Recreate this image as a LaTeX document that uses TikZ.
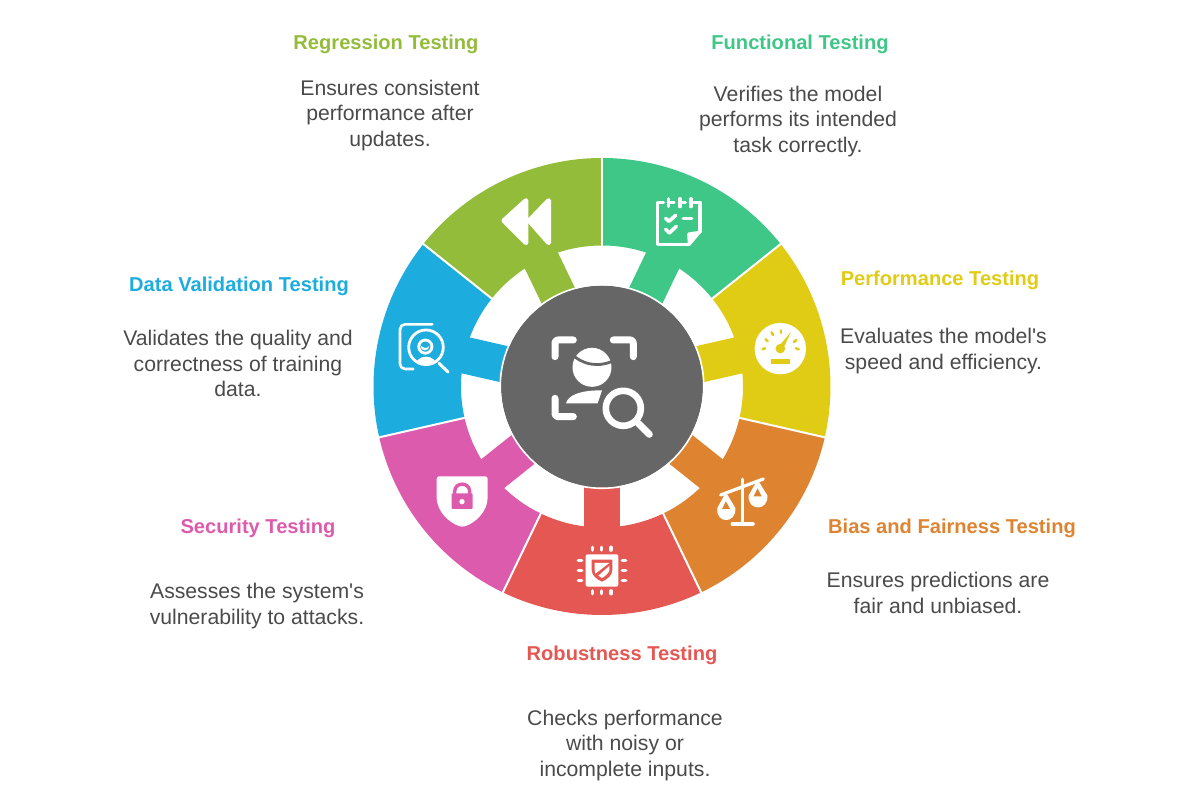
\documentclass[tikz,border=0pt]{standalone}
\usepackage{fontspec}
\setmainfont{Liberation Sans}
\newfontfamily\bodyf{Liberation Sans}
\definecolor{cOlive}{HTML}{93BC3A}
\definecolor{cGreen}{HTML}{3EC787}
\definecolor{cYellow}{HTML}{E0CB15}
\definecolor{cOrange}{HTML}{DE8431}
\definecolor{cRed}{HTML}{E55753}
\definecolor{cPink}{HTML}{DD5BAC}
\definecolor{cBlue}{HTML}{1DACDE}
\definecolor{cDark}{HTML}{666666}
\definecolor{cText}{HTML}{4A4A4A}
\tikzset{
  titlelabel/.style={font=\fontsize{20.1}{24}\selectfont\bfseries,inner sep=0pt,anchor=base},
  bodylabel/.style={font=\bodyf\fontsize{21.2}{25.2}\selectfont,text=cText,align=center,inner sep=0pt,anchor=center},
  zA/.style={shift={(370pt,645pt)},x=0.3333pt,y=-0.3333pt},
  zB/.style={shift={(600pt,645pt)},x=0.3333pt,y=-0.3333pt},
  zC/.style={shift={(370pt,415pt)},x=0.3333pt,y=-0.3333pt},
  zD/.style={shift={(600pt,415pt)},x=0.3333pt,y=-0.3333pt},
  zE/.style={shift={(530pt,480pt)},x=0.3333pt,y=-0.3333pt},
  zF/.style={shift={(565pt,260pt)},x=0.3333pt,y=-0.3333pt},
  ico/.style={draw=white,line cap=round,line join=round},
}
\begin{document}
\begin{tikzpicture}[x=1pt,y=1pt]
\useasboundingbox (0,0) rectangle (1179,795);
% wheel
\begin{scope}[shift={(602,408.5)}]
  \foreach \i/\col in {0/cGreen,1/cYellow,2/cOrange,3/cRed,4/cPink,5/cBlue,6/cOlive}{
    \pgfmathsetmacro{\a}{90-51.4286*\i}
    \pgfmathsetmacro{\b}{\a-51.4286}
    \pgfmathsetmacro{\m}{\a-25.7143}
    \fill[\col] (\a:228.5) arc[start angle=\a,end angle=\b,radius=228.5pt] -- (\b:141) arc[start angle=\b,end angle=\a,radius=141pt] -- cycle;
    \fill[\col,rotate=\m] (95,-18.4) rectangle (142,18.4);
  }
  \foreach \i in {0,...,6}{
    \pgfmathsetmacro{\a}{90-51.4286*\i}
    \draw[white,line width=2pt] (\a:140) -- (\a:231);
  }
  \fill[cDark] (0,0) circle[radius=101pt];
  \draw[white,line width=1.6pt] (0,0) circle[radius=101.8pt];
\end{scope}
% olive icon
\begin{scope}[zA]
  \filldraw[ico,fill=white,line width=5pt] (402,212) -- (468,152) -- (468,278) -- cycle;
  \filldraw[ico,fill=white,line width=5pt] (478,212) -- (536,152) -- (536,278) -- cycle;
\end{scope}
% blue icon
\begin{scope}[zA]
  \draw[ico,line width=2.6pt,rounded corners=5pt] (187,523) -- (90,523) -- (90,657) -- (130,657);
  \fill[cBlue] (168,592) circle[radius=20pt];
  \begin{scope}
    \clip (168,592) circle[radius=17pt];
    \fill[white] (168,650) ellipse[x radius=11pt,y radius=10pt];
  \end{scope}
  \draw[ico,line width=2.8pt] (168,592) circle[radius=17.3pt];
  \draw[ico,line width=2.8pt] (166,590) circle[radius=6.6pt];
  \fill[white] (152,586) .. controls (160,596) and (172,596) .. (178,588) .. controls (178,606) and (150,606) .. (152,586) -- cycle;
  \draw[ico,line width=3pt] (207,640) -- (234,666);
\end{scope}
% green icon
\begin{scope}[zB]
  \draw[ico,line width=3.6pt] (190,158) -- (172,158) -- (172,283) -- (268,283);
  \draw[ico,line width=3.6pt] (282,158) -- (300,158) -- (300,245);
  \draw[ico,line width=3.4pt] (205,158) -- (222,158);
  \draw[ico,line width=3.4pt] (240,158) -- (256,158);
  \filldraw[ico,fill=white,line width=3pt] (268,283) -- (298,247) -- (266,252) -- cycle;
  \draw[ico,line width=3.2pt] (205,146) -- (205,170);
  \draw[ico,line width=3.2pt] (240,146) -- (240,170);
  \draw[ico,line width=3.2pt] (273,146) -- (273,170);
  \draw[ico,line width=3.6pt] (197,205) -- (207,214) -- (227,196);
  \draw[ico,line width=3.6pt] (250,205) -- (275,205);
  \draw[ico,line width=3.6pt] (197,238) -- (208,249) -- (229,229);
\end{scope}
% yellow icon
\begin{scope}[zB]
  \fill[white] (541,596) circle[radius=25.7pt];
  \fill[cYellow] (534,592) -- (573,546) -- (548,600) -- cycle;
  \fill[cYellow] (541,596) circle[radius=4.8pt];
  \draw[cYellow,line width=2.6pt,line cap=round] (488,598) -- (495,595);
  \draw[cYellow,line width=2.6pt,line cap=round] (497,568) -- (503,574);
  \draw[cYellow,line width=2.6pt,line cap=round] (515,547) -- (519,555);
  \draw[cYellow,line width=2.6pt,line cap=round] (543,541) -- (543,549);
  \draw[cYellow,line width=2.6pt,line cap=round] (582,576) -- (589,570);
  \draw[cYellow,line width=2.6pt,line cap=round] (588,595) -- (596,598);
  \fill[cYellow] (513,628) rectangle (570,643);
\end{scope}
% orange icon
\begin{scope}[zD]
  \draw[ico,line width=3.4pt] (428,298) -- (428,432);
  \draw[ico,line width=3.6pt] (397,432) -- (459,432);
  \draw[ico,line width=3.2pt] (362,345) -- (490,297);
  \filldraw[ico,fill=white,line width=2pt] (378,343) -- (355,385) .. controls (350,428) and (406,428) .. (403,385) -- cycle;
  \fill[cOrange] (378,364) -- (366,387) -- (390,387) -- cycle;
  \filldraw[ico,fill=white,line width=2pt] (473,305) -- (449,347) .. controls (445,390) and (503,390) .. (499,347) -- cycle;
  \fill[cOrange] (473,325) -- (461,349) -- (485,349) -- cycle;
\end{scope}
% pink icon
\begin{scope}[zC]
  \fill[white,rounded corners=2.5pt] (200,289) -- (353,289) -- (353,345) .. controls (353,395) and (315,430) .. (277,441) .. controls (239,430) and (200,395) .. (200,345) -- cycle;
  \draw[cPink,line width=3.4pt] (254,345) -- (254,335) .. controls (254,305) and (299,305) .. (299,335) -- (299,345);
  \fill[cPink,rounded corners=1pt] (245,340) rectangle (308,387);
  \fill[white] (276,365) circle[radius=2.7pt];
\end{scope}
% red icon
\begin{scope}[zF]
  \fill[white,rounded corners=2pt] (62,58) rectangle (160,155);
  \foreach \x in {82,110,138}{
    \draw[ico,line width=3.6pt] (\x,37) -- (\x,45);
    \draw[ico,line width=3.6pt] (\x,168) -- (\x,176);
  }
  \foreach \y in {77,106,136}{
    \draw[ico,line width=3.6pt] (40,\y) -- (50,\y);
    \draw[ico,line width=3.6pt] (172,\y) -- (182,\y);
  }
  \fill[cRed] (80,74) -- (142,74) -- (142,105) .. controls (142,122) and (125,134) .. (111,140) .. controls (97,134) and (80,122) .. (80,105) -- cycle;
  \fill[white] (89,84) -- (133,84) -- (91,116) -- (89,105) -- cycle;
  \fill[white] (133,93) -- (133,106) .. controls (131,115) and (120,124) .. (111,129) -- (100,122) -- cycle;
\end{scope}
% centre icon
\begin{scope}[zE]
  \draw[ico,line width=7pt,rounded corners=3pt] (75,125) -- (75,75) -- (130,75);
  \draw[ico,line width=7pt,rounded corners=3pt] (250,75) -- (310,75) -- (310,125);
  \draw[ico,line width=7pt,rounded corners=3pt] (75,250) -- (75,305) -- (130,305);
  \fill[white] (186,157) circle[radius=19.5pt];
  \draw[cDark,line width=2.8pt] (120,113) .. controls (160,153) and (210,158) .. (255,135);
  \fill[white] (108,265) .. controls (115,240) and (150,226) .. (216,226) -- (203,265) -- cycle;
  \fill[cDark] (280,280) circle[radius=23pt];
  \draw[ico,line width=6.6pt] (280,280) circle[radius=17.5pt];
  \draw[ico,line width=7pt] (325,325) -- (358,358);
\end{scope}
% labels
\node[titlelabel,text=cOlive] (t1) at (386,745) {Regression Testing};
\node[bodylabel] (b1) at (390,679.5) {Ensures consistent\\performance after\\updates.};
\node[titlelabel,text=cGreen] (t2) at (800,745) {Functional Testing};
\node[bodylabel] (b2) at (798,673.5) {Verifies the model\\performs its intended\\task correctly.};
\node[titlelabel,text=cYellow] (t3) at (940,509) {Performance Testing};
\node[bodylabel] (b3) at (943.5,444) {Evaluates the model's\\speed and efficiency.};
\node[titlelabel,text=cOrange] (t4) at (952,261) {Bias and Fairness Testing};
\node[bodylabel] (b4) at (938,202) {Ensures predictions are\\fair and unbiased.};
\node[titlelabel,text=cRed] (t5) at (622,134) {Robustness Testing};
\node[bodylabel] (b5) at (625,49.5) {Checks performance\\with noisy or\\incomplete inputs.};
\node[titlelabel,text=cPink] (t6) at (258,261) {Security Testing};
\node[bodylabel] (b6) at (257,189) {Assesses the system's\\vulnerability to attacks.};
\node[titlelabel,text=cBlue] (t7) at (239,503) {Data Validation Testing};
\node[bodylabel] (b7) at (238,431.5) {Validates the quality and\\correctness of training\\data.};
\end{tikzpicture}
\end{document}
